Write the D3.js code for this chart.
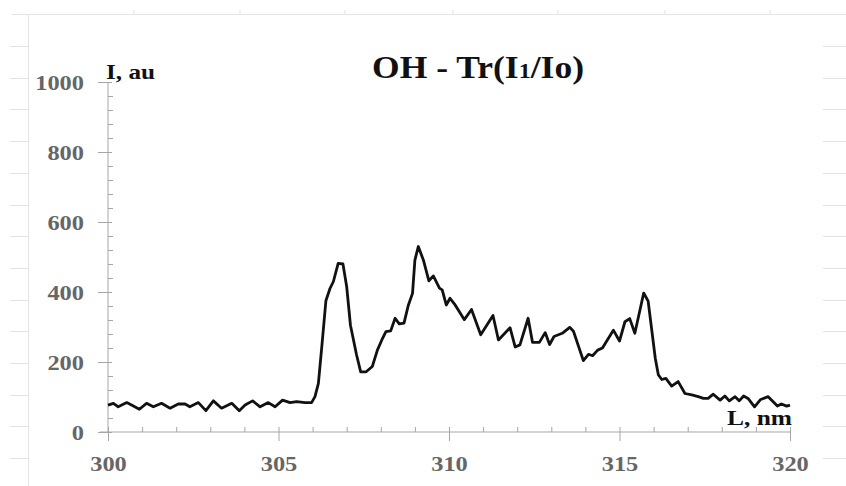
<!DOCTYPE html>
<html>
<head>
<meta charset="utf-8">
<script src="https://cdn.jsdelivr.net/npm/d3@7"></script>
<style>
  body { margin: 0; background: #fff; }
  svg text { font-family: "Liberation Serif", "Times New Roman", serif; font-weight: bold; }
</style>
</head>
<body>
<div id="chart"></div>
<script>
// wavelength, nm
const wavelength = [
  300.00, 300.16, 300.30, 300.55, 300.69, 300.92, 301.13, 301.33, 301.57, 301.82,
  302.06, 302.26, 302.40, 302.65, 302.87, 303.09, 303.33, 303.63, 303.85, 304.02,
  304.24, 304.46, 304.70, 304.90, 305.12, 305.34, 305.53, 305.78, 305.97, 306.07,
  306.17, 306.27, 306.39, 306.51, 306.61, 306.75, 306.89, 307.00, 307.11, 307.29,
  307.41, 307.57, 307.75, 307.90, 308.03, 308.15, 308.29, 308.42, 308.54, 308.68,
  308.81, 308.93, 309.00, 309.10, 309.25, 309.41, 309.54, 309.72, 309.80, 309.92,
  310.03, 310.18, 310.30, 310.45, 310.66, 310.93, 311.29, 311.45, 311.79, 311.94,
  312.08, 312.32, 312.45, 312.65, 312.82, 312.95, 313.08, 313.32, 313.54, 313.65,
  313.94, 314.09, 314.21, 314.36, 314.50, 314.82, 315.00, 315.16, 315.30, 315.45,
  315.71, 315.84, 316.05, 316.14, 316.24, 316.36, 316.53, 316.72, 316.92, 317.12,
  317.31, 317.46, 317.60, 317.75, 317.95, 318.09, 318.22, 318.39, 318.51, 318.64,
  318.77, 318.96, 319.14, 319.36, 319.50, 319.63, 319.75, 319.90, 320.00
];
// intensity, au
const intensity = [
  77, 82, 72, 84, 77, 65, 82, 72, 82, 68,
  80, 80, 72, 84, 61, 89, 68, 82, 61, 77,
  89, 72, 84, 72, 91, 84, 87, 84, 84, 101,
  139, 244, 375, 410, 430, 482, 480, 415, 305, 220,
  172, 172, 187, 234, 263, 287, 289, 325, 309, 311,
  363, 396, 491, 530, 491, 432, 446, 411, 406, 363,
  382, 363, 344, 321, 350, 278, 333, 263, 298, 243,
  249, 325, 256, 256, 284, 250, 273, 282, 299, 288,
  204, 222, 218, 234, 240, 291, 260, 315, 324, 282,
  397, 374, 210, 163, 150, 153, 131, 144, 110, 106,
  101, 96, 96, 108, 91, 103, 89, 101, 89, 103,
  96, 72, 93, 101, 87, 74, 80, 74, 77
];
const xTicks = [300, 305, 310, 315, 320];
const yTicks = [0, 200, 400, 600, 800, 1000];

const data = wavelength.map((w, i) => ({ x: w, y: intensity[i] }));

const svgWidth = 846;
const svgHeight = 486;
const axisColor = "#a6a6a6";
const labelColor = "#666";

const svg = d3.select("#chart")
  .append("svg")
  .attr("width", svgWidth)
  .attr("height", svgHeight);

// faint spreadsheet grid behind the chart
const sheet = svg.append("g").attr("stroke", "#e3e3e3").attr("stroke-width", 1);
sheet.append("line").attr("x1", 12).attr("x2", svgWidth).attr("y1", 14.5).attr("y2", 14.5);
sheet.append("line").attr("x1", 28.5).attr("x2", 28.5).attr("y1", 14).attr("y2", svgHeight);
d3.range(46, 470, 31.7).forEach(y => {
  sheet.append("line").attr("x1", 10).attr("x2", 28).attr("y1", Math.round(y) + 0.5).attr("y2", Math.round(y) + 0.5);
  sheet.append("line").attr("x1", 823).attr("x2", svgWidth).attr("y1", Math.round(y) + 0.5).attr("y2", Math.round(y) + 0.5);
});
[134, 240, 345, 453, 558, 665, 770].forEach(x => {
  sheet.append("line").attr("x1", x).attr("x2", x).attr("y1", 10).attr("y2", 14);
});

// scales
const xScale = d3.scaleLinear().domain([300, 320]).range([108, 790]);
const yScale = d3.scaleLinear().domain([0, 1000]).range([432, 82]);

// minor ticks
const xMinor = svg.append("g")
  .attr("transform", `translate(0,${yScale(0)})`)
  .call(d3.axisBottom(xScale)
    .tickValues(d3.range(300, 321, 1).filter(d => d % 5 !== 0))
    .tickSize(-5).tickFormat(""));
xMinor.select(".domain").remove();
xMinor.selectAll("line").attr("stroke", axisColor);

const yMinor = svg.append("g")
  .attr("transform", `translate(${xScale(300)},0)`)
  .call(d3.axisLeft(yScale)
    .tickValues(d3.range(0, 1001, 40).filter(d => d % 200 !== 0))
    .tickSize(-5).tickFormat(""));
yMinor.select(".domain").remove();
yMinor.selectAll("line").attr("stroke", axisColor);

// the picture is a little stretched sideways, so widen the digits
const digitWidth = 12.2;

// x axis
const xAxisG = svg.append("g")
  .attr("transform", `translate(0,${yScale(0)})`)
  .call(d3.axisBottom(xScale).tickValues(xTicks).tickSize(9).tickPadding(14).tickFormat(d3.format("d")));
xAxisG.select(".domain").attr("stroke", axisColor).attr("d", `M${xScale(300) - 8},0H${xScale(320)}`);
xAxisG.selectAll(".tick line").attr("stroke", axisColor).attr("y1", -5);
xAxisG.selectAll(".tick text")
  .attr("fill", labelColor)
  .attr("textLength", d => String(d).length * digitWidth)
  .attr("lengthAdjust", "spacingAndGlyphs")
  .style("font-size", "22px");

// y axis
const yAxisG = svg.append("g")
  .attr("transform", `translate(${xScale(300)},0)`)
  .call(d3.axisLeft(yScale).tickValues(yTicks).tickSize(10).tickPadding(14).tickFormat(d3.format("d")));
yAxisG.select(".domain").attr("stroke", axisColor).attr("d", `M0,${yScale(1000)}V${yScale(0)}`);
yAxisG.selectAll(".tick line").attr("stroke", axisColor).attr("x1", 4);
yAxisG.selectAll(".tick text")
  .attr("fill", labelColor)
  .attr("textLength", d => String(d).length * digitWidth)
  .attr("lengthAdjust", "spacingAndGlyphs")
  .style("font-size", "22px");

// spectrum line
const line = d3.line()
  .x(d => xScale(d.x))
  .y(d => yScale(d.y));

svg.append("path")
  .datum(data)
  .attr("fill", "none")
  .attr("stroke", "#111")
  .attr("stroke-width", 2.8)
  .attr("stroke-linejoin", "round")
  .attr("d", line);

// labels
svg.append("text")
  .attr("x", 106).attr("y", 79)
  .attr("fill", "#111")
  .attr("textLength", 49)
  .attr("lengthAdjust", "spacingAndGlyphs")
  .style("font-size", "21px")
  .text("I, au");

svg.append("text")
  .attr("x", 727).attr("y", 425)
  .attr("fill", "#111")
  .attr("textLength", 65)
  .attr("lengthAdjust", "spacingAndGlyphs")
  .style("font-size", "20px")
  .text("L, nm");

const title = svg.append("text")
  .attr("x", 372).attr("y", 78)
  .attr("fill", "#111")
  .attr("textLength", 212)
  .attr("lengthAdjust", "spacingAndGlyphs")
  .style("font-size", "31px");
title.append("tspan").text("OH - Tr(I");
title.append("tspan").style("font-size", "21px").text("1");
title.append("tspan").text("/Io)");
</script>
</body>
</html>
